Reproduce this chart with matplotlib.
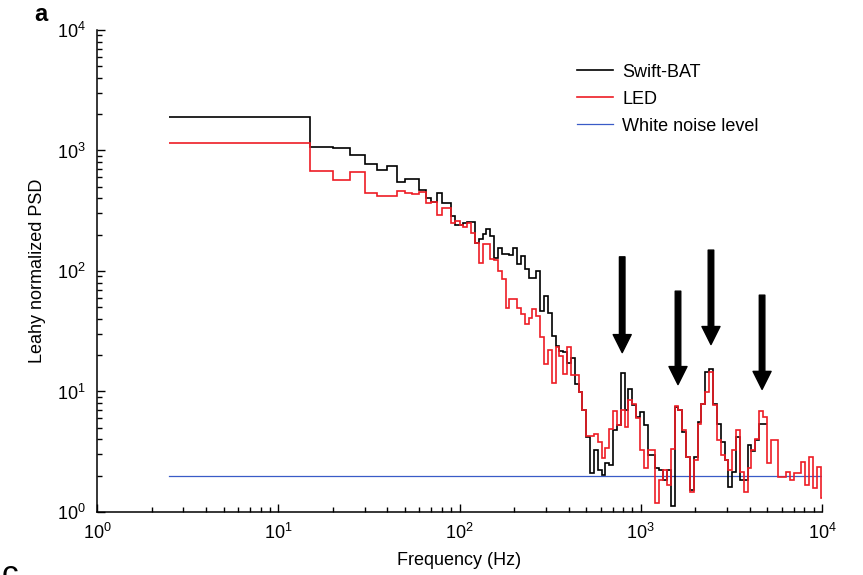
import matplotlib
matplotlib.use("Agg")
import matplotlib.pyplot as plt

plt.rcParams['font.family'] = ['Liberation Sans', 'DejaVu Sans']
plt.rcParams['font.size'] = 13

# bin edges (Hz): one wide bin, 5 Hz bins up to 100 Hz, then 5 % log bins
lin_edges = [2.5, 15, 20, 25, 30, 35, 40, 45, 50, 55, 60, 65, 70, 75, 80, 85, 90, 95, 100]
log_edges = [105, 110.3, 115.8, 121.6, 127.6, 134.0, 140.7, 147.7, 155.1, 162.9,
             171.0, 179.6, 188.6, 198.0, 207.9, 218.3, 229.2, 240.7, 252.7, 265.3,
             278.6, 292.5, 307.2, 322.5, 338.6, 355.6, 373.4, 392.0, 411.6, 432.2,
             453.8, 476.5, 500.3, 525.3, 551.6, 579.2, 608.1, 638.6, 670.5, 704.0,
             739.2, 776.2, 815.0, 855.7, 898.5, 943.4, 990.6, 1040, 1092, 1147,
             1204, 1264, 1328, 1394, 1464, 1537, 1614, 1694, 1779, 1868,
             1961, 2059, 2162, 2270, 2384, 2503, 2628, 2760, 2898, 3043,
             3195, 3355, 3522, 3698, 3883, 4077, 4281, 4495, 4720, 4956,
             5204, 5464, 5737, 6024, 6325, 6642, 6974, 7323, 7689, 8073,
             8477, 8901, 9346, 9813, 10304]

swift_psd = [1910, 1073, 1053, 909, 766, 687, 738, 551, 584, 584, 473, 404, 374, 444,
             367, 367, 285, 239,
             240, 251, 254, 256, 171, 183, 201, 221, 195, 129,
             156, 138, 138, 135, 156, 115, 133, 103, 88, 88,
             99, 46.7, 62, 45.2, 29, 24, 21.8, 21.1, 17.1, 19,
             11.6, 9.9, 7.0, 4.19, 2.11, 3.25, 2.22, 2.02, 2.53, 2.45,
             4.76, 5.24, 14.2, 7.0, 10.5, 7.66, 6.10, 6.74, 5.24, 2.96,
             2.96, 2.30, 2.22, 1.84, 2.22, 1.13, 7.42, 7.0, 4.61, 2.87,
             1.52, 2.87, 5.58, 7.91, 14.4, 15.4, 7.91, 5.41, 3.81, 2.69,
             1.62, 2.15, 4.19, 1.84, 1.84, 3.58, 3.21, 3.99, 5.41, 5.41]

led_psd = [1143, 670, 565, 662, 444, 417, 422, 458, 447, 439, 450, 367, 374, 294,
           334, 334, 251, 259,
           243, 231, 251, 207, 171, 117, 166, 166, 125, 123,
           100, 85, 49.7, 58.3, 58.3, 49.7, 43.9, 36.3, 41.1, 48.2,
           42.5, 28.1, 16.9, 22.1, 11.7, 23.5, 19.8, 14.0, 23.5, 13.8,
           13.6, 9.87, 7.0, 4.25, 4.25, 4.47, 3.81, 2.78, 3.42, 4.92,
           6.88, 5.24, 7.0, 5.07, 8.43, 7.81, 6.06, 3.25, 2.30, 3.25,
           3.25, 1.18, 1.84, 2.22, 1.67, 3.36, 7.52, 7.0, 4.76, 2.87,
           1.47, 2.69, 5.41, 7.91, 9.87, 14.4, 7.66, 3.94, 2.96, 2.69,
           2.22, 3.25, 4.82, 2.15, 1.47, 2.30, 3.25, 4.06, 6.88, 6.13,
           2.53, 3.99, 3.99, 1.94, 1.94, 2.15, 1.86, 2.11, 2.11, 2.60,
           1.67, 2.87, 1.57, 2.34, 1.30]

noise_level = 2.0
noise_range = [2.5, 10000]

# QPO arrows: frequency, top and tip of each arrow
arrow_freq = [790, 1605, 2440, 4670]
arrow_top = [131, 68, 149, 63]
arrow_tip = [21, 11.4, 24.5, 10.4]

all_edges = lin_edges + log_edges
swift_edges = all_edges[:len(swift_psd) + 1]
led_edges = all_edges[:len(led_psd) + 1]

fig = plt.figure(figsize=(8.63, 5.75), dpi=100)
ax = fig.add_axes([0.1124, 0.1096, 0.8401, 0.8383])

ax.stairs(swift_psd, swift_edges, baseline=None, color='black', lw=1.2,
          label='Swift-BAT', zorder=3)
ax.stairs(led_psd, led_edges, baseline=None, color='#ee1c25', lw=1.2,
          label='LED', zorder=4)
ax.plot(noise_range, [noise_level, noise_level], color='#3a5bc7', lw=0.9,
        label='White noise level', zorder=2)

for f, top, tip in zip(arrow_freq, arrow_top, arrow_tip):
    ax.annotate('', xy=(f, tip), xytext=(f, top),
                arrowprops=dict(facecolor='black', edgecolor='black',
                                width=4, headwidth=13, headlength=13))

ax.set_xscale('log')
ax.set_yscale('log')
ax.set_xlim(1, 1e4)
ax.set_ylim(1, 1e4)

ax.spines['top'].set_visible(False)
ax.spines['right'].set_visible(False)
ax.spines['left'].set_linewidth(1.1)
ax.spines['bottom'].set_linewidth(1.1)
ax.tick_params(which='both', direction='in', width=1.0)
ax.tick_params(which='major', length=6, pad=8)
ax.tick_params(which='minor', length=3.5)

ax.set_xlabel('Frequency (Hz)', labelpad=6)
ax.set_ylabel('Leahy normalized PSD', labelpad=8)

ax.legend(loc='upper left', bbox_to_anchor=(0.662, 0.930), frameon=False,
          handlelength=2.0, handletextpad=0.5, labelspacing=0.55,
          borderaxespad=0, borderpad=0)

fig.text(0.040, 0.995, 'a', fontsize=17, fontweight='bold', va='top')
fig.text(0.002, 0.026, 'c', fontsize=24, va='top')

fig.savefig('out.png', dpi=100)
